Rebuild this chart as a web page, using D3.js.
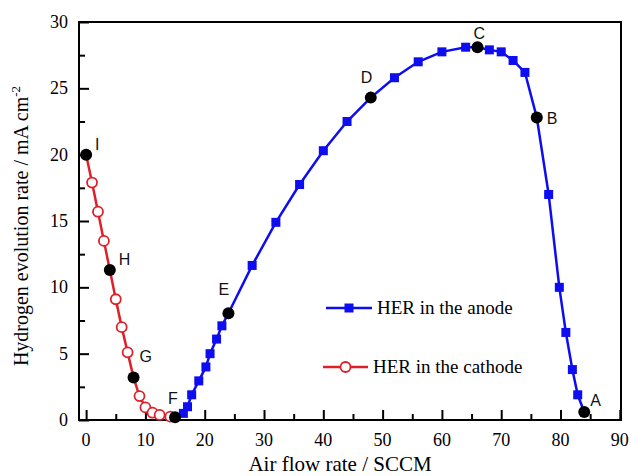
<!DOCTYPE html>
<html>
<head>
<meta charset="utf-8">
<script src="https://cdn.jsdelivr.net/npm/d3@7"></script>
<style>
  body { margin: 0; background: #fff; }
  svg { display: block; }
</style>
</head>
<body>
<script>
// anode series (blue squares), key points included so the line passes through them
const anodeX = [15, 16.4, 17.1, 17.8, 19, 20.2, 20.9, 22, 22.9, 24, 28, 32, 36, 40, 44, 48, 52, 56, 60, 64, 66, 68, 70, 72, 74, 76, 78, 79.8, 80.9, 82, 82.9, 84];
const anodeY = [0.2, 0.5, 1.0, 1.9, 2.95, 4.0, 5.0, 6.1, 7.1, 8.05, 11.65, 14.9, 17.75, 20.3, 22.5, 24.3, 25.8, 27.0, 27.75, 28.1, 28.1, 27.9, 27.75, 27.1, 26.2, 22.8, 17.0, 10.0, 6.6, 3.8, 1.9, 0.6];

// cathode series (red open circles)
const cathodeX = [0, 1, 2, 3, 4, 5, 6, 7, 8, 9, 10, 11.2, 12.4, 14.2, 15];
const cathodeY = [20.0, 17.9, 15.7, 13.5, 11.3, 9.1, 7.0, 5.1, 3.2, 1.8, 0.95, 0.55, 0.38, 0.25, 0.2];

// labelled key points (black dots)
const keyLabels = ["A", "B", "C", "D", "E", "F", "G", "H", "I"];
const keyX = [84, 76, 66, 48, 24, 15, 8, 4, 0];
const keyY = [0.6, 22.8, 28.1, 24.3, 8.05, 0.2, 3.2, 11.3, 20.0];

const xTicks = [0, 10, 20, 30, 40, 50, 60, 70, 80, 90];
const yTicks = [0, 5, 10, 15, 20, 25, 30];

const legendNames = ["HER in the anode", "HER in the cathode"];

function main() {
    const width = 631;
    const height = 476;
    const left = 79, right = 621, top = 22, bottom = 420;
    const blue = "#0d0df0";
    const red = "#dd2029";
    const serif = "'Liberation Serif', 'Times New Roman', serif";
    const sans = "'Liberation Sans', Arial, sans-serif";

    const svg = d3.select("body").append("svg")
        .attr("width", width)
        .attr("height", height);

    const xScale = d3.scaleLinear().domain([-1.2, 90.2]).range([left, right]);
    const yScale = d3.scaleLinear().domain([0, 30]).range([bottom, top]);

    // ticks point inward
    const xAxis = d3.axisTop(xScale).tickValues(xTicks).tickSize(10).tickFormat("");
    const xMinor = d3.axisTop(xScale).tickValues(xTicks.slice(0, -1).map(d => d + 5)).tickSize(6).tickFormat("");
    const yAxis = d3.axisRight(yScale).tickValues(yTicks).tickSize(10).tickFormat("");
    const yMinor = d3.axisRight(yScale).tickValues(yTicks.slice(0, -1).map(d => d + 2.5)).tickSize(6).tickFormat("");

    [xAxis, xMinor].forEach(ax => {
        const g = svg.append("g").attr("transform", `translate(0, ${bottom})`).call(ax);
        g.select(".domain").remove();
        g.selectAll("line").attr("stroke", "#000").attr("stroke-width", 2);
    });
    [yAxis, yMinor].forEach(ax => {
        const g = svg.append("g").attr("transform", `translate(${left}, 0)`).call(ax);
        g.select(".domain").remove();
        g.selectAll("line").attr("stroke", "#000").attr("stroke-width", 2);
    });

    // tick labels
    svg.selectAll(".xlab").data(xTicks).enter().append("text")
        .attr("x", d => xScale(d)).attr("y", 446)
        .attr("text-anchor", "middle")
        .style("font-family", serif).style("font-size", "18px")
        .text(d => d);
    svg.selectAll(".ylab").data(yTicks).enter().append("text")
        .attr("x", 68).attr("y", d => yScale(d) + 6)
        .attr("text-anchor", "end")
        .style("font-family", serif).style("font-size", "18px")
        .text(d => d);

    // frame
    svg.append("rect")
        .attr("x", left).attr("y", top)
        .attr("width", right - left).attr("height", bottom - top)
        .attr("fill", "none").attr("stroke", "#000").attr("stroke-width", 2);

    const line = d3.line().x(d => xScale(d[0])).y(d => yScale(d[1]));
    const anode = anodeX.map((x, i) => [x, anodeY[i]]);
    const cathode = cathodeX.map((x, i) => [x, cathodeY[i]]);
    const isKey = d => keyX.some((k, i) => k === d[0] && keyY[i] === d[1]);

    svg.append("path").datum(cathode).attr("d", line)
        .attr("fill", "none").attr("stroke", red).attr("stroke-width", 2.5);
    svg.append("path").datum(anode).attr("d", line)
        .attr("fill", "none").attr("stroke", blue).attr("stroke-width", 2.5);

    svg.selectAll(".cpt").data(cathode.filter(d => !isKey(d))).enter().append("circle")
        .attr("cx", d => xScale(d[0])).attr("cy", d => yScale(d[1]))
        .attr("r", 5).attr("fill", "#fff").attr("stroke", red).attr("stroke-width", 1.8);
    svg.selectAll(".apt").data(anode.filter(d => !isKey(d))).enter().append("rect")
        .attr("x", d => xScale(d[0]) - 4.5).attr("y", d => yScale(d[1]) - 4.5)
        .attr("width", 9).attr("height", 9).attr("fill", blue);

    // key points and their letters
    const labelOffset = { A: [6, -6], B: [10, 6], C: [-4, -8], D: [-10, -15], E: [-10, -18],
                          F: [-7, -13], G: [6, -16], H: [9, -5], I: [9, -5] };
    svg.selectAll(".kpt").data(keyLabels).enter().append("circle")
        .attr("cx", (d, i) => xScale(keyX[i])).attr("cy", (d, i) => yScale(keyY[i]))
        .attr("r", 6).attr("fill", "#000");
    svg.selectAll(".klab").data(keyLabels).enter().append("text")
        .attr("x", (d, i) => xScale(keyX[i]) + labelOffset[d][0])
        .attr("y", (d, i) => yScale(keyY[i]) + labelOffset[d][1])
        .style("font-family", sans).style("font-size", "16px")
        .attr("fill", "#111")
        .text(d => d);

    // legend
    const leg = [[blue, 308, 326, 372, 377], [red, 367, 323, 368, 373]];
    leg.forEach((l, i) => {
        svg.append("line").attr("x1", l[2]).attr("x2", l[3]).attr("y1", l[1]).attr("y2", l[1])
            .attr("stroke", l[0]).attr("stroke-width", 2.5);
        const cx = (l[2] + l[3]) / 2;
        if (i === 0) {
            svg.append("rect").attr("x", cx - 4.5).attr("y", l[1] - 4.5)
                .attr("width", 9).attr("height", 9).attr("fill", blue);
        } else {
            svg.append("circle").attr("cx", cx).attr("cy", l[1]).attr("r", 5)
                .attr("fill", "#fff").attr("stroke", red).attr("stroke-width", 1.8);
        }
        svg.append("text").attr("x", l[4]).attr("y", l[1] + 6)
            .style("font-family", serif).style("font-size", "19px")
            .text(legendNames[i]);
    });

    // axis titles
    svg.append("text")
        .attr("x", 340).attr("y", 471)
        .attr("text-anchor", "middle")
        .style("font-family", serif).style("font-size", "21px")
        .text("Air flow rate / SCCM");

    const yt = svg.append("text")
        .attr("transform", "translate(28, 226) rotate(-90)")
        .attr("text-anchor", "middle")
        .style("font-family", serif).style("font-size", "20px");
    yt.append("tspan").text("Hydrogen evolution rate / mA cm");
    yt.append("tspan").attr("dy", -8).style("font-size", "13px").text("-2");
}

main();
</script>
</body>
</html>
